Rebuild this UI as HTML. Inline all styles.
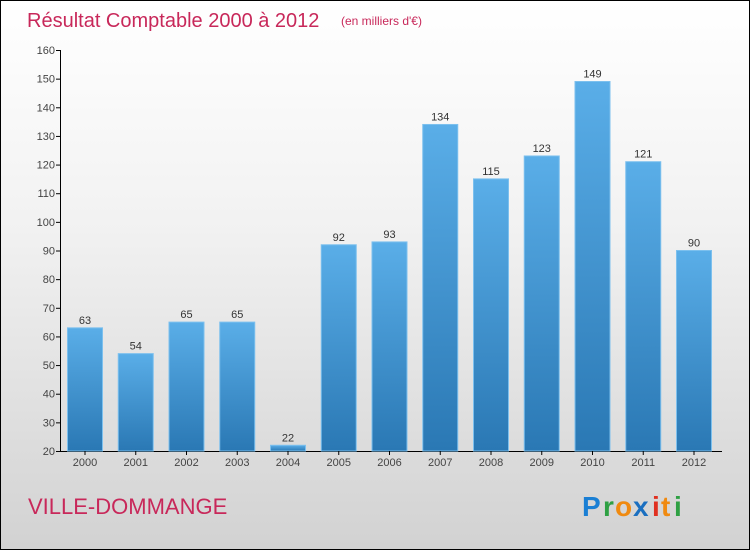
<!DOCTYPE html>
<html><head><meta charset="utf-8"><style>
html,body{margin:0;padding:0}
body{width:750px;height:550px;overflow:hidden;font-family:"Liberation Sans",sans-serif}
#wrap{position:absolute;left:0;top:0;width:748px;height:548px;border:1px solid #000;background:linear-gradient(#ffffff 0%,#f2f2f2 40%,#d2d2d2 100%)}
</style></head><body>
<div id="wrap">
<svg id="chart" width="750" height="550" style="position:absolute;left:-1px;top:-1px">
<defs><linearGradient id="bg" x1="0" y1="0" x2="0" y2="1"><stop offset="0" stop-color="#5aaee8"/><stop offset="1" stop-color="#2a78b4"/></linearGradient></defs>
<text x="27" y="27" font-size="20" fill="#c8285a">Résultat Comptable 2000 à 2012</text>
<text x="341" y="25" font-size="12" fill="#c8285a">(en milliers d'€)</text>
<text x="28" y="514" font-size="22" fill="#c8285a">VILLE-DOMMANGE</text>
<g font-size="28" font-weight="bold" font-family="'Liberation Sans',sans-serif">
<text x="582" y="516" fill="#1a7fd4">P</text><text x="603" y="516" fill="#2ea043">r</text><text x="615" y="516" fill="#f08a10">o</text><text x="633" y="516" fill="#1a6fc0">x</text><text x="652" y="516" fill="#e03020">i</text><text x="661" y="516" fill="#f08a10">t</text><text x="674" y="516" fill="#2ea043">i</text>
</g>
<g id="plot"></g>
</svg></div>
<script>
const years=["2000","2001","2002","2003","2004","2005","2006","2007","2008","2009","2010","2011","2012"];
const values=[63,54,65,65,22,92,93,134,115,123,149,121,90];
const ticks=[20,30,40,50,60,70,80,90,100,110,120,130,140,150,160];
const NS="http://www.w3.org/2000/svg";
const g=document.getElementById('plot');
const y0=451,y1=50,vmin=20,vmax=160;
function y(v){return y0-(v-vmin)/(vmax-vmin)*(y0-y1);}
function x(i){return 85+i*50.75;}
function mk(t,a,p){const e=document.createElementNS(NS,t);for(const k in a)e.setAttribute(k,a[k]);(p||g).appendChild(e);return e;}
const ax=mk('line',{x1:60.5,x2:60.5,y1:y1,y2:y0,stroke:'#000'});


const bx=mk('line',{x1:60,x2:722,y1:y0+0.5,y2:y0+0.5,stroke:'#000'});


ticks.forEach(t=>{
 const l=mk('line',{x1:56,x2:61,y1:y(t)+0.5,y2:y(t)+0.5,stroke:'#000'});
 
 
 const tx=mk('text',{x:55,y:y(t)+4,'text-anchor':'end','font-size':11,fill:'#444'});
 tx.textContent=t;
 
 
});
values.forEach((v,i)=>{
 const r=mk('rect',{x:x(i)-17.5,y:y(v),width:35,height:y0-y(v),fill:'url(#bg)',stroke:'#7cc0ee','stroke-width':1});
 
 
 const vl=mk('text',{x:x(i),y:y(v)-4,'text-anchor':'middle','font-size':11,fill:'#333'});
 vl.textContent=v;
 
 
 const tk=mk('line',{x1:x(i),x2:x(i),y1:y0,y2:y0+4,stroke:'#000'});
 
 
 const xl=mk('text',{x:x(i),y:y0+15,'text-anchor':'middle','font-size':11,fill:'#444'});
 xl.textContent=years[i];
 
 
});
</script>
</body></html>
